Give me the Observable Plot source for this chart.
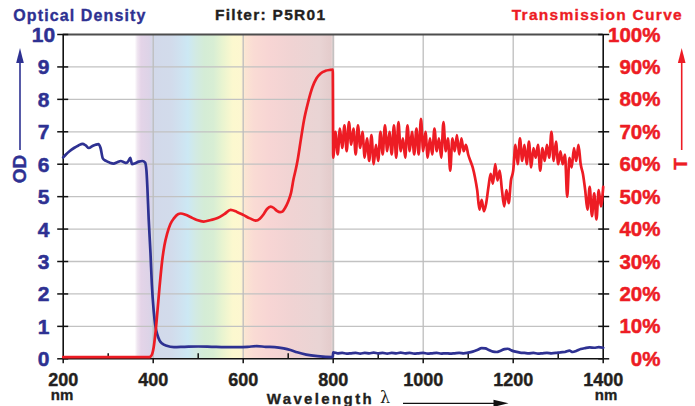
<!DOCTYPE html>
<html><head><meta charset="utf-8">
<script src="https://cdn.jsdelivr.net/npm/d3@7"></script>
<script src="https://cdn.jsdelivr.net/npm/@observablehq/plot@0.6"></script>
<style>html,body{margin:0;padding:0;background:#fff;} #chart svg{display:block}</style>
</head><body><div id="chart"></div>
<script>
// ---- data ----
const wlMajorTicks = [200, 400, 600, 800, 1000, 1200, 1400];
const wlMinorTicks = [300, 500, 700, 900, 1100, 1300];
const wlGridTicks = [400, 600, 800, 1000, 1200];
const odTicks = [0, 1, 2, 3, 4, 5, 6, 7, 8, 9, 10];
const odGridTicks = [1, 2, 3, 4, 5, 6, 7, 8, 9];
const tTicks = [0, 10, 20, 30, 40, 50, 60, 70, 80, 90, 100];
const spectrumBand = [{from: 360, to: 806}];

// optical density (OD) vs wavelength (nm)
const odCurve = [
  [200,6.21],[206,6.3],[214,6.4],[224,6.5],[234,6.58],[243,6.63],[250,6.58],[257,6.5],[265,6.56],[272,6.6],
  [278,6.62],[283,6.5],[288,6.18],[295,6.1],[303,6.05],[312,6.02],[320,6.06],[328,6.1],[335,6.06],[340,6.04],
  [345,6.1],[349,6.2],[353,6.0],[360,6.03],[368,6.08],[376,6.1],[382,6.05],[385,5.8],[387,5.3],[390,4.3],
  [394,3.25],[397,2.3],[401,1.49],[405,1.0],[409,0.75],[414,0.57],[420,0.47],[430,0.4],[446,0.36],[470,0.37],
  [500,0.38],[530,0.37],[560,0.36],[590,0.36],[610,0.37],[630,0.39],[650,0.37],[670,0.36],[690,0.32],[705,0.27],
  [720,0.2],[740,0.13],[765,0.08],[799,0.05],
  [800,0.2],[810,0.17],[820,0.18],[830,0.16],[840,0.17],[850,0.18],[860,0.16],[870,0.18],[880,0.17],[890,0.19],
  [900,0.17],[910,0.18],[920,0.16],[930,0.18],[940,0.17],[950,0.19],[960,0.17],[970,0.18],[980,0.16],[990,0.17],
  [1000,0.18],[1010,0.16],[1020,0.17],[1030,0.18],[1040,0.16],[1050,0.17],[1060,0.16],[1070,0.17],[1080,0.18],[1090,0.17],
  [1100,0.19],[1110,0.22],[1120,0.27],[1130,0.33],[1138,0.32],[1146,0.27],[1155,0.22],[1163,0.21],[1172,0.25],[1181,0.3],
  [1188,0.31],[1196,0.26],[1205,0.22],[1215,0.19],[1225,0.18],[1235,0.17],[1245,0.18],[1255,0.16],[1265,0.17],[1275,0.18],
  [1285,0.17],[1295,0.18],[1305,0.2],[1315,0.21],[1325,0.25],[1332,0.21],[1340,0.24],[1350,0.3],[1360,0.33],[1370,0.35],
  [1380,0.34],[1390,0.36],[1400,0.34]
];

// transmission (%) vs wavelength (nm)
const tCurve = [
  [200,0.5],[390,0.5],[394,0.7],[398,1.6],[401,3.5],[405,8],[409,14],[414,22],[420,30.3],[425,35],
  [431,38.6],[438,41.5],[446,43.3],[455,44.6],[461,44.8],[472,44.4],[483,43.7],[497,42.8],[512,42.3],[528,42.8],
  [543,43.4],[558,44.6],[572,45.9],[586,45.3],[601,44.3],[615,43.3],[628,42.6],[637,43.2],[645,44.5],[653,46.2],
  [661,46.9],[668,46.5],[675,45.6],[682,45.2],[687,45.4],[693,46.5],[700,48.5],[706,51],[712,55.5],[717,58.5],
  [721,61.3],[728,67.5],[735,73.5],[744,79],[754,83.8],[763,86.5],[772,88],[783,88.8],[794,89.1],[799,89.2],
  [800,62],[805,70],[810,63],[815,71],[820,65],[825,72],[830,64],[835,73],[840,66],[845,71],
  [850,63],[855,72],[860,65],[865,70],[870,62],[875,68],[880,61],[885,69],[890,60],[895,66],
  [900,61],[905,70],[910,63],[915,72],[920,64],[925,70],[930,63],[935,72],[940,62],[945,73],
  [950,64],[955,68],[960,62],[965,72],[970,64],[975,70],[980,63],[985,71],[990,63],[995,74],
  [1000,64],[1005,70],[1010,62],[1015,68],[1020,63],[1025,71],[1030,64],[1035,68],[1040,62],[1045,73],
  [1050,64],[1055,68],[1060,58],[1065,68],[1070,64],[1075,69],[1080,63],[1085,68],[1090,64],[1095,66],
  [1100,63],[1105,61],[1110,59],[1115,56],[1120,52],[1125,46],[1130,49],[1135,45.5],[1140,48],[1145,53],
  [1150,57],[1155,54],[1160,60],[1165,55],[1170,58],[1175,52],[1180,47],[1185,52],[1190,48],[1195,55],
  [1200,58],[1205,66],[1210,60],[1215,68],[1220,61],[1225,66],[1230,60],[1235,67],[1240,59],[1245,65],
  [1250,62],[1255,66],[1260,58],[1265,65],[1270,61],[1275,66],[1280,62],[1285,70],[1290,61],[1295,67],
  [1300,60],[1305,64],[1310,60],[1315,63],[1320,50],[1325,62],[1330,59],[1335,65],[1340,61],[1345,66],
  [1350,60],[1355,57],[1360,52],[1365,46],[1370,53],[1375,44],[1380,51],[1385,43],[1390,52],[1395,47],
  [1400,53]
];

// ---- styling ----
const FONT = "'Liberation Sans', Arial, Helvetica, sans-serif";
const BLUE = "#2e3192", RED = "#ed1c24", INK = "#231f20";
const spectrumStops = [
  [360,"#ffffff"],[366,"#efe5f0"],[374,"#e4d4e8"],[392,"#ddd3e7"],[402,"#d2d9ea"],[440,"#d2dbeb"],
  [462,"#cfe2f0"],[478,"#cce8f4"],[495,"#d2eae4"],[515,"#d4ecd6"],[535,"#d8eed4"],[555,"#e9f4d0"],
  [578,"#fcf8cf"],[596,"#fdf7d0"],[606,"#fbe4d3"],[625,"#fadbd4"],[660,"#f7d5d4"],[710,"#f0d3d3"],
  [770,"#e9d4d4"],[795,"#e4cccc"],[801,"#e9d9d9"],[806,"#ffffff"]
];

const od = odCurve.map(([wl, v]) => ({wl, v}));
const tr = tCurve.map(([wl, v]) => ({wl, v}));
const noText = () => "";

const chart = Plot.plot({
  width: 695, height: 406,
  marginLeft: 62.7, marginRight: 92.3, marginTop: 34, marginBottom: 47.7,
  x: {domain: [200, 1400]},
  y: {domain: [0, 10]},
  style: {background: "white", fontFamily: FONT, overflow: "visible"},
  marks: [
    Plot.rect(spectrumBand, {x1: "from", x2: "to", y1: 0, y2: 10, fill: "url(#spec)"}),
    Plot.ruleY(odGridTicks, {stroke: "#c2c2c2", strokeWidth: 1.3}),
    Plot.ruleX(wlGridTicks, {stroke: "#bdbdbd", strokeWidth: 1.3}),
    Plot.ruleY([10], {stroke: "#4d4d4d", strokeWidth: 2.2}),
    Plot.ruleY([0], {stroke: "#111", strokeWidth: 1.6}),
    Plot.ruleX([200, 1400], {stroke: "#111", strokeWidth: 1.6}),
    Plot.axisY({anchor: "left", ticks: odTicks, tickSize: 11, dx: 5.5, tickFormat: noText, label: null, stroke: "#111", strokeWidth: 1.5}),
    Plot.axisY({anchor: "right", ticks: odTicks, tickSize: 11, dx: -5.5, tickFormat: noText, label: null, stroke: "#111", strokeWidth: 1.5}),
    Plot.axisX({anchor: "bottom", ticks: wlMajorTicks, tickSize: 5, tickFormat: noText, label: null, stroke: "#111", strokeWidth: 1.5}),
    Plot.axisX({anchor: "bottom", ticks: wlMinorTicks, tickSize: 5, dy: -5, tickFormat: noText, label: null, stroke: "#111", strokeWidth: 1.5}),
    Plot.text(odTicks, {x: 200, y: d => d, text: d => String(d), dx: -19.7, dy: 0.7, textAnchor: "middle", fill: BLUE, stroke: BLUE, strokeWidth: 0.5, fontSize: 21, fontWeight: "bold"}),
    Plot.text(tTicks, {x: 1400, y: d => d / 10, text: d => d + "%", dx: 57.3, dy: 0.5, textAnchor: "end", fill: RED, stroke: RED, strokeWidth: 0.5, fontSize: 20.5, fontWeight: "bold"}),
    Plot.text(wlMajorTicks, {x: d => d, y: 0, text: d => String(d), dy: 21.5, fill: INK, stroke: INK, strokeWidth: 0.4, fontSize: 18, fontWeight: "bold"}),
    Plot.line(od, {x: "wl", y: "v", stroke: BLUE, strokeWidth: 2.7, curve: "monotone-x", strokeLinejoin: "round"}),
    Plot.line(tr, {x: "wl", y: d => d.v / 10, stroke: RED, strokeWidth: 2.7, curve: "monotone-x", strokeLinejoin: "round"})
  ]
});
document.getElementById("chart").appendChild(chart);

// gradient for visible spectrum band
const svg = d3.select(chart);
const band = spectrumBand[0];
const grad = svg.insert("defs", ":first-child").append("linearGradient")
  .attr("id", "spec").attr("x1", 0).attr("x2", 1).attr("y1", 0).attr("y2", 0);
spectrumStops.forEach(([nm, c]) => grad.append("stop")
  .attr("offset", (nm - band.from) / (band.to - band.from)).attr("stop-color", c));

// titles, axis names and arrows
const deco = svg.append("g").attr("font-family", FONT).attr("font-weight", "bold").attr("text-anchor", "start");
function label(x, y, txt, size, fill, len, anchor = "start") {
  const t = deco.append("text").attr("x", x).attr("y", y).attr("font-size", size)
    .attr("fill", fill).attr("stroke", fill).attr("stroke-width", 0.35)
    .attr("text-anchor", anchor).text(txt);
  if (len) t.attr("textLength", len).attr("lengthAdjust", "spacing");
  return t;
}
label(13.3, 20.6, "Optical Density", 16, BLUE, 132);
label(215, 20, "Filter: P5R01", 15.5, INK, 110);
label(511.7, 20, "Transmission Curve", 15.5, RED, 170);
label(266.7, 403.5, "Wavelength", 15, INK, 105);
label(62, 399.5, "nm", 15, INK, null, "middle");
label(606, 399.5, "nm", 15, INK, null, "middle");
deco.append("text").attr("x", 385).attr("y", 403).attr("text-anchor", "middle")
  .attr("font-family", "'DejaVu Serif', serif").attr("font-weight", "normal").attr("font-size", 16).attr("fill", INK).text("λ");
deco.append("text").attr("transform", "translate(26,169) rotate(-90)").attr("text-anchor", "middle")
  .attr("font-size", 19).attr("fill", BLUE).attr("stroke", BLUE).attr("stroke-width", 0.4).text("OD");
deco.append("text").attr("transform", "translate(687,164) rotate(-90)").attr("text-anchor", "middle")
  .attr("font-size", 19).attr("fill", RED).attr("stroke", RED).attr("stroke-width", 0.4).text("T");

function arrowUp(x, yBottom, yTip, color) {
  deco.append("line").attr("x1", x).attr("x2", x).attr("y1", yBottom).attr("y2", yTip + 10)
    .attr("stroke", color).attr("stroke-width", 1.6);
  deco.append("path").attr("d", `M${x},${yTip}L${x - 3.8},${yTip + 15}L${x + 3.8},${yTip + 15}Z`).attr("fill", color);
}
arrowUp(20, 150, 48, BLUE);
arrowUp(681.7, 150, 48, RED);
deco.append("line").attr("x1", 403).attr("x2", 498).attr("y1", 403.3).attr("y2", 403.3).attr("stroke", "#111").attr("stroke-width", 1.3);
deco.append("path").attr("d", "M508.5,403.3L493.5,399.7L493.5,406.9Z").attr("fill", "#111");
</script>
</body></html>
